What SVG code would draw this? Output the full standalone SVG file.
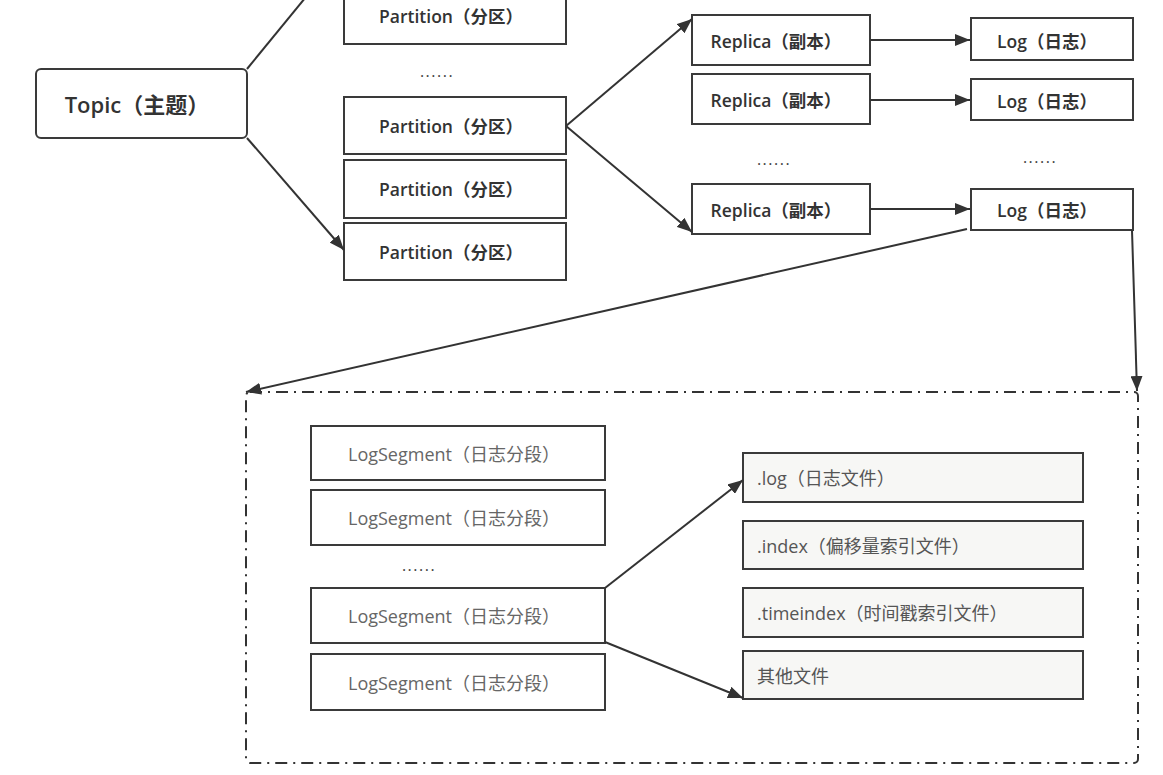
<svg xmlns="http://www.w3.org/2000/svg" width="1163" height="775" viewBox="0 0 1163 775">
<defs>
<marker id="arr" markerUnits="userSpaceOnUse" markerWidth="16" markerHeight="12" refX="15" refY="6" orient="auto">
<path d="M0,0 L15,6 L0,12 z" fill="#333"/>
</marker>
<style>
.box{fill:#fff;stroke:#3a3a3a;stroke-width:2}
.file{fill:#f7f7f5;stroke:#3a3a3a;stroke-width:2}
.b{font-family:"Open Sans","Noto Sans CJK SC",sans-serif;font-weight:600;font-size:17.5px;fill:#333;text-anchor:middle;dominant-baseline:central}
.n{font-family:"Open Sans","Noto Sans CJK SC",sans-serif;font-size:18px;fill:#666;text-anchor:middle;dominant-baseline:central}
.f{font-family:"Open Sans","Noto Sans CJK SC",sans-serif;font-size:18px;fill:#555;dominant-baseline:central}
.dots{font-family:"Open Sans",sans-serif;font-size:16px;letter-spacing:1.5px;fill:#444;text-anchor:middle}
.ln{fill:none;stroke:#333;stroke-width:2}
</style>
</defs>
<rect width="1163" height="775" fill="#fff"/>

<g id="container">
<rect x="246" y="392" width="892" height="371" rx="4" fill="none" stroke="#333" stroke-width="2" stroke-dasharray="12,6,2,6"/>
</g>

<g id="topic">
<rect class="box" x="36" y="69" width="211" height="69" rx="5"/>
<text class="b" x="137" y="104" style="font-size:22px">Topic（主题）</text>
</g>

<g id="partition1"><rect class="box" x="344" y="-13" width="222" height="57"/><text class="b" x="451" y="16">Partition（分区）</text></g>
<g id="dots-partition"><text class="dots" x="437" y="77">......</text></g>
<g id="partition2"><rect class="box" x="344" y="97" width="222" height="57"/><text class="b" x="451" y="126">Partition（分区）</text></g>
<g id="partition3"><rect class="box" x="344" y="160" width="222" height="58"/><text class="b" x="451" y="189">Partition（分区）</text></g>
<g id="partition4"><rect class="box" x="344" y="223" width="222" height="57"/><text class="b" x="451" y="252">Partition（分区）</text></g>

<g id="replica1"><rect class="box" x="692" y="15" width="178" height="50"/><text class="b" x="776" y="41">Replica（副本）</text></g>
<g id="replica2"><rect class="box" x="692" y="74" width="178" height="50"/><text class="b" x="776" y="100">Replica（副本）</text></g>
<g id="dots-replica"><text class="dots" x="774" y="165">......</text></g>
<g id="replica3"><rect class="box" x="692" y="184" width="178" height="50"/><text class="b" x="776" y="210">Replica（副本）</text></g>

<g id="log1"><rect class="box" x="971" y="18" width="162" height="42"/><text class="b" x="1047" y="41">Log（日志）</text></g>
<g id="log2"><rect class="box" x="971" y="79" width="162" height="41"/><text class="b" x="1047" y="101">Log（日志）</text></g>
<g id="dots-log"><text class="dots" x="1040" y="163">......</text></g>
<g id="log3"><rect class="box" x="971" y="189" width="162" height="41"/><text class="b" x="1047" y="210">Log（日志）</text></g>

<g id="seg1"><rect class="box" x="311" y="426" width="294" height="54"/><text class="n" x="454" y="454">LogSegment（日志分段）</text></g>
<g id="seg2"><rect class="box" x="311" y="490" width="294" height="55"/><text class="n" x="454" y="518">LogSegment（日志分段）</text></g>
<g id="dots-seg"><text class="dots" x="419" y="571">......</text></g>
<g id="seg3"><rect class="box" x="311" y="588" width="294" height="55"/><text class="n" x="454" y="616">LogSegment（日志分段）</text></g>
<g id="seg4"><rect class="box" x="311" y="654" width="294" height="56"/><text class="n" x="454" y="683">LogSegment（日志分段）</text></g>

<g id="file-log"><rect class="file" x="743" y="453" width="340" height="49"/><text class="f" x="757" y="478">.log（日志文件）</text></g>
<g id="file-index"><rect class="file" x="743" y="521" width="340" height="48"/><text class="f" x="757" y="546">.index（偏移量索引文件）</text></g>
<g id="file-timeindex"><rect class="file" x="743" y="588" width="340" height="49"/><text class="f" x="757" y="613">.timeindex（时间戳索引文件）</text></g>
<g id="file-other"><rect class="file" x="743" y="651" width="340" height="48"/><text class="f" x="757" y="676">其他文件</text></g>

<g id="connectors">
<path class="ln" d="M247,69 L310,-8"/>
<path class="ln" d="M247,138 L344,250" marker-end="url(#arr)"/>
<path class="ln" d="M566,126 L692,19" marker-end="url(#arr)"/>
<path class="ln" d="M566,126 L692,232" marker-end="url(#arr)"/>
<path class="ln" d="M870,40 L970,40" marker-end="url(#arr)"/>
<path class="ln" d="M870,100 L970,100" marker-end="url(#arr)"/>
<path class="ln" d="M870,209 L970,209" marker-end="url(#arr)"/>
<path class="ln" d="M967,229 L246,392" marker-end="url(#arr)"/>
<path class="ln" d="M1132,230 L1137,391" marker-end="url(#arr)"/>
<path class="ln" d="M605,588 L743,480" marker-end="url(#arr)"/>
<path class="ln" d="M605,642 L743,698" marker-end="url(#arr)"/>
</g>
</svg>
